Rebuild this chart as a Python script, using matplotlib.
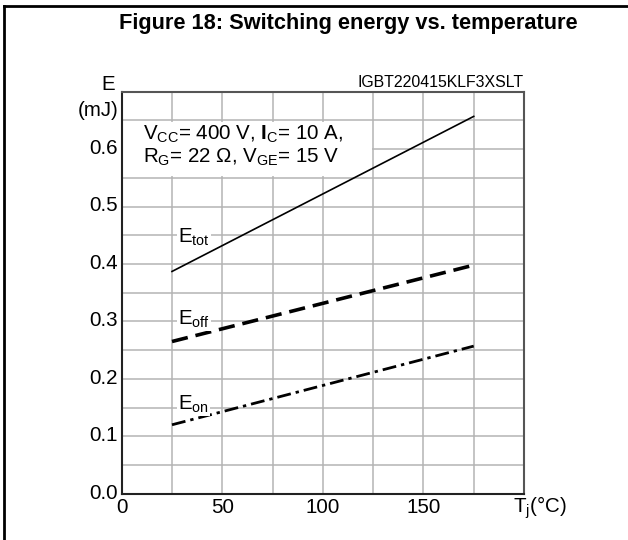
import matplotlib
matplotlib.use("Agg")
import matplotlib.pyplot as plt
from matplotlib.patches import Rectangle
from matplotlib.lines import Line2D

plt.rcParams['font.family'] = ['Liberation Sans', 'DejaVu Sans']
plt.rcParams['mathtext.fontset'] = 'custom'
plt.rcParams['mathtext.rm'] = 'Liberation Sans'
plt.rcParams['mathtext.it'] = 'Liberation Sans'
plt.rcParams['mathtext.bf'] = 'Liberation Sans:bold'

# Data
temperature = [25, 175]
e_tot = [0.387, 0.657]
e_off = [0.265, 0.398]
e_on = [0.120, 0.257]
x_ticks = [0, 50, 100, 150]
x_tick_labels = ['0', '50', '100', '150']
y_ticks = [0.0, 0.1, 0.2, 0.3, 0.4, 0.5, 0.6]
y_tick_labels = ['0.0', '0.1', '0.2', '0.3', '0.4', '0.5', '0.6']

FS = 14.8

W, H = 628, 540
fig = plt.figure(figsize=(W / 100, H / 100), dpi=100)
ax = fig.add_axes([121.7 / W, 1 - 493.7 / H, (524 - 121.7) / W, (493.7 - 91.7) / H])

ax.set_xlim(0, 200)
ax.set_ylim(0, 0.7)
ax.set_xticks([v for v in range(0, 201, 25)])
ax.set_yticks([i * 0.05 for i in range(15)])
ax.grid(True, color='#b4b4b4', linewidth=1.1, zorder=0)
ax.set_axisbelow(True)
ax.tick_params(length=0, labelbottom=False, labelleft=False)
for s in ['left', 'bottom']:
    ax.spines[s].set_color('#222222')
    ax.spines[s].set_linewidth(1.5)
for s in ['top', 'right']:
    ax.spines[s].set_color('#555555')
    ax.spines[s].set_linewidth(1.5)

# tick labels
for v, lab in zip(x_ticks, x_tick_labels):
    ax.text(v, -0.007, lab, ha='center', va='top', fontsize=FS)
for v, lab in zip(y_ticks, y_tick_labels):
    ax.text(-2.0, v + 0.001, lab, ha='right', va='center', fontsize=FS)

# white box behind condition text
ax.add_patch(Rectangle((0.5, 0.553), 124, 0.094, facecolor='white',
                       edgecolor='none', zorder=1))

# curves
ax.plot(temperature, e_tot, color='black', linewidth=1.2, zorder=3)
l_off, = ax.plot(temperature, e_off, color='black', linewidth=2.6, zorder=3)
l_off.set_dashes([4.5, 2.2])
l_on, = ax.plot(temperature, e_on, color='black', linewidth=2.0, zorder=3)
l_on.set_dashes([5, 1.8, 1.2, 1.8])

bb = dict(facecolor='white', edgecolor='none', pad=0.8)
ax.text(28, 0.446, r'E$_{\mathrm{tot}}$', fontsize=FS, ha='left', va='center', bbox=bb, zorder=4)
ax.text(28, 0.304, r'E$_{\mathrm{off}}$', fontsize=FS, ha='left', va='center', bbox=bb, zorder=4)
ax.text(28, 0.156, r'E$_{\mathrm{on}}$', fontsize=FS, ha='left', va='center', bbox=bb, zorder=4)

ax.text(10.5, 0.616, r'V$_{\mathrm{CC}}$= 400 V, $\mathbf{I}$$_{\mathrm{C}}$= 10 A,', fontsize=FS,
        ha='left', va='baseline', zorder=4)
ax.text(10.5, 0.576, r'R$_{\mathrm{G}}$= 22 Ω, V$_{\mathrm{GE}}$= 15 V', fontsize=FS,
        ha='left', va='baseline', zorder=4)

ax.text(1.0, 1.004, 'IGBT220415KLF3XSLT', transform=ax.transAxes, ha='right',
        va='bottom', fontsize=11.4)

# axis labels
fig.text(108 / W, 1 - 85 / H, 'E', ha='center', va='center', fontsize=FS)
fig.text(118 / W, 1 - 110 / H, '(mJ)', ha='right', va='center', fontsize=FS)
fig.text(540 / W, 1 - 508 / H, r'T$_{\mathrm{j}}$(°C)', ha='center', va='center', fontsize=FS)

# title
fig.text(348 / W, 1 - 23.5 / H, 'Figure 18: Switching energy vs. temperature',
         ha='center', va='center', fontsize=15.7, fontweight='bold')

# frame
fig.add_artist(Line2D([4 / W, 4 / W], [0, 1 - 6 / H], transform=fig.transFigure,
                      color='black', linewidth=2))
fig.add_artist(Line2D([4 / W, 1], [1 - 6 / H, 1 - 6 / H], transform=fig.transFigure,
                      color='black', linewidth=2))

fig.savefig('out.png', dpi=100)
